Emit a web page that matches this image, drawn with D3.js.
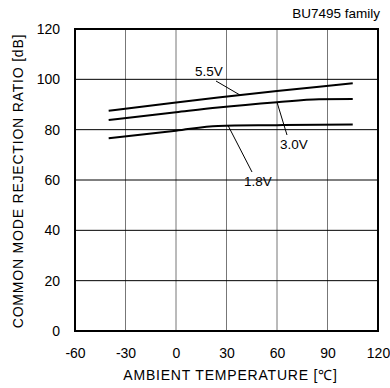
<!DOCTYPE html>
<html lang="en">
<head>
  <meta charset="UTF-8" />
  <title>CMRR vs Ambient Temperature</title>
  <script src="https://d3js.org/d3.v7.min.js"></script>
  <style>
    body { margin:0; padding:0; background:#fff; }
    svg { display:block; font-family:"Liberation Sans", Arial, sans-serif; }
    .tick text { font-size:14px; fill:#000; }
  </style>
</head>
<body>
  <svg width="390" height="388"></svg>
  <script>
  // data
  const temps  = [-40, 0, 25, 60, 85, 105];
  const v55    = [87.5, 90.8, 92.8, 95.4, 97.1, 98.4];
  const v30    = [83.8, 86.9, 88.8, 90.9, 92.1, 92.2];
  const v18    = [76.6, 79.6, 81.5, 81.8, 82.0, 82.1];
  const xTicks = [-60, -30, 0, 30, 60, 90, 120];
  const yTicks = [0, 20, 40, 60, 80, 100, 120];

  // label position, leader start, temperature where leader meets the curve
  const series = [
    { name: "5.5V", vals: v55, lab: [195, 76],  from: [216, 81],  at: 38 },
    { name: "3.0V", vals: v30, lab: [280, 149], from: [287, 135], at: 60 },
    { name: "1.8V", vals: v18, lab: [244, 186], from: [252, 172], at: 31 }
  ];

  const svg = d3.select("svg");
  const L = 75, R = 378, T = 29, B = 331;

  const x = d3.scaleLinear().domain([-60, 120]).range([L, R]);
  const y = d3.scaleLinear().domain([0, 120]).range([B, T]);

  // grid
  svg.append("g").selectAll("line").data(xTicks.slice(1, -1)).enter().append("line")
    .attr("x1", d => x(d)).attr("x2", d => x(d))
    .attr("y1", T).attr("y2", B)
    .attr("stroke", "#777").attr("stroke-width", 1);
  svg.append("g").selectAll("line").data(yTicks.slice(1, -1)).enter().append("line")
    .attr("y1", d => y(d)).attr("y2", d => y(d))
    .attr("x1", L).attr("x2", R)
    .attr("stroke", "#000").attr("stroke-width", 1);

  // axes (labels only), plain hyphen for negatives
  const fmt = d => String(d);
  const xAxis = svg.append("g").attr("transform", `translate(0,${B})`)
    .call(d3.axisBottom(x).tickValues(xTicks).tickFormat(fmt).tickSize(0).tickPadding(17));
  xAxis.select(".domain").remove();
  const yAxis = svg.append("g").attr("transform", `translate(${L},0)`)
    .call(d3.axisLeft(y).tickValues(yTicks).tickFormat(fmt).tickSize(0).tickPadding(15));
  yAxis.select(".domain").remove();
  svg.selectAll(".tick text").attr("font-family", "Liberation Sans, Arial, sans-serif");

  // frame
  svg.append("rect").attr("x", L).attr("y", T).attr("width", R - L).attr("height", B - T)
    .attr("fill", "none").attr("stroke", "#000").attr("stroke-width", 2);

  // curves
  const line = d3.line().x((d, i) => x(temps[i])).y(d => y(d)).curve(d3.curveMonotoneX);
  svg.append("g").selectAll("path").data(series).enter().append("path")
    .attr("d", d => line(d.vals))
    .attr("fill", "none").attr("stroke", "#000").attr("stroke-width", 2);

  // labels with leader lines
  series.forEach(s => {
    const at = d3.scaleLinear().domain(temps).range(s.vals);
    svg.append("line")
      .attr("x1", s.from[0]).attr("y1", s.from[1])
      .attr("x2", x(s.at)).attr("y2", y(at(s.at)))
      .attr("stroke", "#000").attr("stroke-width", 1);
    svg.append("text").attr("x", s.lab[0]).attr("y", s.lab[1])
      .attr("font-size", 13.5).text(s.name);
  });

  svg.append("text").attr("x", 380).attr("y", 18).attr("text-anchor", "end")
    .attr("font-size", 13.5).text("BU7495 family");

  svg.append("text").attr("x", (L + R) / 2 + 4).attr("y", 380).attr("text-anchor", "middle")
    .attr("font-size", 14).attr("letter-spacing", 0.8).text("AMBIENT TEMPERATURE [℃]");

  svg.append("text").attr("transform", `translate(23,${(T + B) / 2 + 1}) rotate(-90)`)
    .attr("text-anchor", "middle").attr("font-size", 14).attr("letter-spacing", 0.8)
    .text("COMMON MODE REJECTION RATIO [dB]");
  </script>
</body>
</html>
